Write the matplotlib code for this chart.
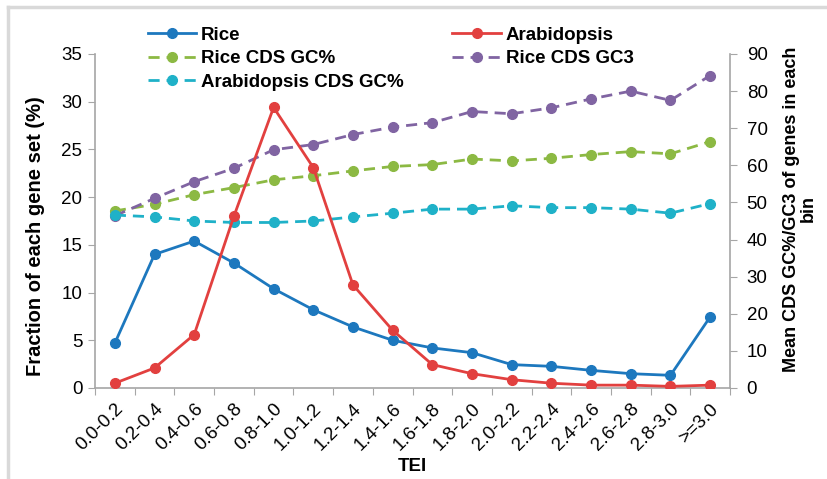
import matplotlib
matplotlib.use("Agg")
import matplotlib.pyplot as plt
from matplotlib.lines import Line2D

plt.rcParams['font.family'] = ['Liberation Sans', 'DejaVu Sans']

bins = ["0.0-0.2", "0.2-0.4", "0.4-0.6", "0.6-0.8", "0.8-1.0", "1.0-1.2", "1.2-1.4", "1.4-1.6",
        "1.6-1.8", "1.8-2.0", "2.0-2.2", "2.2-2.4", "2.4-2.6", "2.6-2.8", "2.8-3.0", ">=3.0"]
rice = [4.7, 14.0, 15.4, 13.1, 10.4, 8.2, 6.4, 5.0, 4.2, 3.7, 2.45, 2.27, 1.85, 1.5, 1.33, 7.45]
arabidopsis = [0.5, 2.1, 5.6, 18.0, 29.4, 23.1, 10.8, 6.05, 2.45, 1.5, 0.87, 0.5, 0.3, 0.3, 0.17, 0.3]
rice_gc = [47.7, 49.5, 52.1, 54.0, 56.1, 57.2, 58.5, 59.7, 60.2, 61.7, 61.2, 61.9, 62.9, 63.7, 63.1, 66.4]
rice_gc3 = [46.4, 51.1, 55.6, 59.2, 64.2, 65.6, 68.3, 70.3, 71.5, 74.5, 73.9, 75.5, 77.9, 80.0, 77.5, 84.2]
arab_gc = [46.6, 46.1, 45.0, 44.6, 44.6, 45.0, 46.1, 47.1, 48.2, 48.2, 49.1, 48.6, 48.6, 48.2, 47.1, 49.7]

c_blue = "#1d78be"
c_red = "#e2403f"
c_green = "#8cb943"
c_purple = "#8064a2"
c_cyan = "#1fb1c8"
grey = "#a6a6a6"

fig = plt.figure(figsize=(8.27, 4.79), dpi=100)
ax = fig.add_axes([95 / 827, 1 - 388 / 479, 635 / 827, 334 / 479])
ax2 = ax.twinx()

x = list(range(len(bins)))
lw = 2
ms = 7
h_rice, = ax.plot(x, rice, "-o", color=c_blue, lw=lw, ms=ms, label="Rice", zorder=5)
h_arab, = ax.plot(x, arabidopsis, "-o", color=c_red, lw=lw, ms=ms, label="Arabidopsis", zorder=5)
h_rgc, = ax2.plot(x, rice_gc, "--o", color=c_green, lw=lw, ms=ms, label="Rice CDS GC%", dashes=(4, 2.5))
h_rgc3, = ax2.plot(x, rice_gc3, "--o", color=c_purple, lw=lw, ms=ms, label="Rice CDS GC3", dashes=(4, 2.5))
h_agc, = ax2.plot(x, arab_gc, "--o", color=c_cyan, lw=lw, ms=ms, label="Arabidopsis CDS GC%", dashes=(4, 2.5))
ax.set_zorder(ax2.get_zorder() + 1)
ax.patch.set_visible(False)

ax.set_xlim(-0.5, len(bins) - 0.5)
ax.set_ylim(0, 35)
ax2.set_ylim(0, 90)
ax.set_yticks(range(0, 36, 5))
ax2.set_yticks(range(0, 91, 10))
ax.set_xticks([i - 0.5 for i in range(len(bins) + 1)], minor=False)
ax.set_xticklabels([])
ax.set_xticks(x, minor=True)
ax.set_xticklabels(bins, minor=True, rotation=45, ha="right", rotation_mode="anchor", fontsize=13.5)
ax.tick_params(axis="x", which="minor", length=0, pad=9)
ax.tick_params(axis="x", which="major", length=5, color=grey, direction="out")

for a in (ax, ax2):
    for s in a.spines.values():
        s.set_visible(False)
ax.spines["left"].set_visible(True)
ax.spines["bottom"].set_visible(True)
ax2.spines["right"].set_visible(True)
for s in (ax.spines["left"], ax.spines["bottom"], ax2.spines["right"]):
    s.set_color(grey)
    s.set_linewidth(1.2)

ax.tick_params(axis="y", length=5, color=grey, labelsize=13.5, pad=4)
ax2.tick_params(axis="y", length=5, color=grey, labelsize=13.5, pad=7)

ax.set_ylabel("Fraction of each gene set (%)", fontsize=14.5, fontweight="bold")
ax.yaxis.set_label_coords(-0.078, 0.455)
ax2.set_ylabel("Mean CDS GC%/GC3 of genes in each\nbin", fontsize=13, fontweight="bold",
               rotation=90, linespacing=1.0)
ax2.yaxis.set_label_coords(1.083, 0.536)
ax.set_xlabel("TEI", fontsize=13.5, fontweight="bold", labelpad=3)

fig.legend(handles=[h_rice, h_rgc, h_agc, h_arab, h_rgc3], ncol=2, frameon=False,
           loc="upper left", bbox_to_anchor=(140 / 827, 1 - 19 / 479),
           prop={"weight": "bold", "size": 13.5}, handlelength=2.6, handletextpad=0.25,
           labelspacing=0.35, columnspacing=2.6, borderaxespad=0)

# light grey frame at top and left of the picture
fig.add_artist(Line2D([8 / 827, 1], [1 - 7 / 479, 1 - 7 / 479], color="#d9d9d9", lw=2.5))
fig.add_artist(Line2D([8 / 827, 8 / 827], [0, 1 - 7 / 479], color="#d9d9d9", lw=2.5))

fig.savefig("out.png", dpi=100)
